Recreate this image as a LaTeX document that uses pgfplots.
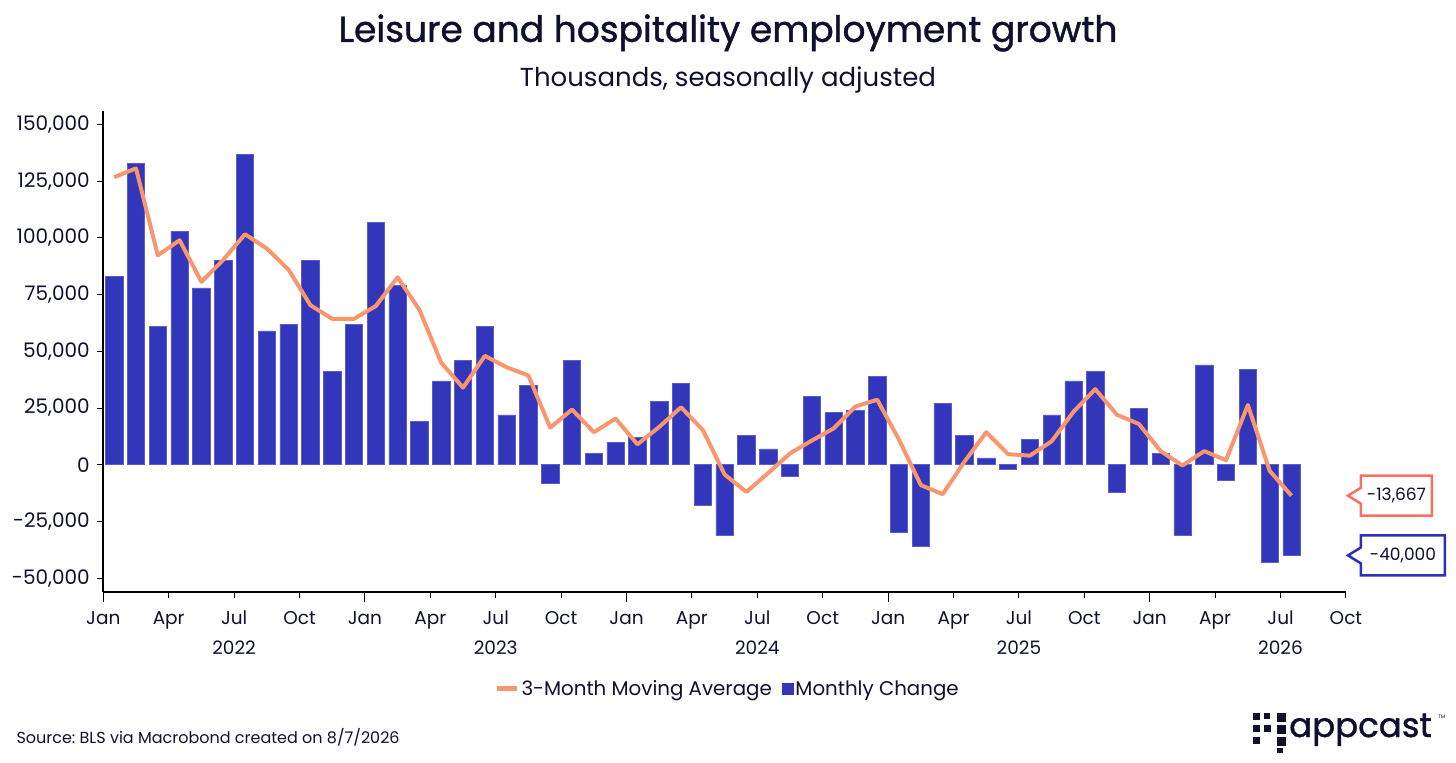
\documentclass[border=0pt]{standalone}
\usepackage{pgfplots}
\pgfplotsset{compat=1.18}
\usepackage{pgfplotstable}
\usepackage{fontspec}
\setmainfont{Poppins}
\newfontfamily\titlefont{Poppins}[FakeBold=1.2]
\frenchspacing
\definecolor{barblue}{RGB}{50,54,186}
\definecolor{lineorange}{RGB}{250,150,110}
\definecolor{callred}{RGB}{248,112,96}
\definecolor{callblue}{RGB}{44,48,184}
\definecolor{navy}{RGB}{14,16,46}

\pgfplotstableread{
x     change   ma
0.5    83000  126800
1.5   133000  130700
2.5    61000   92333
3.5   103000   99000
4.5    78000   80667
5.5    90000   90333
6.5   137000  101667
7.5    59000   95333
8.5    62000   86000
9.5    90000   70333
10.5   41000   64333
11.5   62000   64333
12.5  107000   70000
13.5   79000   82667
14.5   19000   68333
15.5   37000   45000
16.5   46000   34000
17.5   61000   48000
18.5   22000   43000
19.5   35000   39333
20.5   -8000   16333
21.5   46000   24333
22.5    5000   14333
23.5   10000   20333
24.5   12000    9000
25.5   28000   16667
26.5   36000   25333
27.5  -18000   15333
28.5  -31000   -4333
29.5   13000  -12000
30.5    7000   -3667
31.5   -5000    5000
32.5   30000   10667
33.5   23000   16000
34.5   24000   25667
35.5   39000   28667
36.5  -30000   11000
37.5  -36000   -9000
38.5   27000  -13000
39.5   13000    1333
40.5    3000   14333
41.5   -2000    4667
42.5   11000    4000
43.5   22000   10333
44.5   37000   23333
45.5   41000   33333
46.5  -12000   22000
47.5   25000   18000
48.5    5000    6000
49.5  -31000    -333
50.5   44000    6000
51.5   -7000    2000
52.5   42000   26333
53.5  -43000   -2667
54.5  -40000  -13667
}\datatable

\begin{document}
\begin{tikzpicture}
\path[use as bounding box] (0,0) rectangle (1456bp,763bp);

\node[font=\titlefont\fontsize{36bp}{40bp}\selectfont, text=navy] at (728bp,730bp) {Leisure and hospitality employment growth};
\node[font=\fontsize{26bp}{30bp}\selectfont, text=navy] at (728bp,683bp) {Thousands, seasonally adjusted};

\begin{axis}[
  at={(103.3bp,171.3bp)}, anchor=south west,
  scale only axis, width=1242.7bp, height=480.7bp,
  xmin=0, xmax=57, ymin=-56000, ymax=156000,
  axis x line*=bottom, axis y line*=left,
  axis line style={line width=2bp, black},
  clip=false,
  scaled y ticks=false,
  tick align=outside,
  major tick length=6bp,
  tick style={black, line width=1bp},
  ytick={-50000,-25000,0,25000,50000,75000,100000,125000,150000},
  yticklabels={{-50,000},{-25,000},{0},{25,000},{50,000},{75,000},{100,000},{125,000},{150,000}},
  yticklabel style={font=\fontsize{20bp}{24bp}\selectfont, text=navy, xshift=-4bp},
  xtick={0,3,...,57},
  xticklabels={Jan,Apr,{Jul\\2022},Oct,Jan,Apr,{Jul\\2023},Oct,Jan,Apr,{Jul\\2024},Oct,Jan,Apr,{Jul\\2025},Oct,Jan,Apr,{Jul\\2026},Oct},
  xticklabel style={font=\fontsize{18.5bp}{30bp}\selectfont, text=navy, align=center, yshift=-10bp},
  extra x ticks={0,12,24,36,48},
  extra x tick labels={},
  extra x tick style={major tick length=10bp},
  reverse legend,
  legend columns=2,
  legend style={at={(axis description cs:0.5,-0.202)}, anchor=center, xshift=3bp, draw=none, fill=none,
    font=\fontsize{19.8bp}{22bp}\selectfont, text=navy,
    /tikz/every even column/.append style={column sep=8bp}},
]
\addplot[ybar, bar width=17.3bp, bar shift=0pt, fill=barblue, draw=barblue!80!white, line width=0.6bp,
  legend image code/.code={\fill[barblue] (-2bp,-5.5bp) rectangle (9bp,5.5bp);}]
  table[x=x, y=change] {\datatable};
\addlegendentry{Monthly Change}
\addplot[sharp plot, color=lineorange, line width=4bp, no marks, line join=round,
  legend image code/.code={\draw[lineorange, line width=5bp] (0bp,0bp) -- (20bp,0bp);}]
  table[x=x, y=ma] {\datatable};
\addlegendentry{3-Month Moving Average}
\coordinate (t1) at (axis cs:57,-13667);
\coordinate (t2) at (axis cs:57,-40000);
\end{axis}

\draw[callred, line width=2.5bp, fill=white, line join=miter] ([xshift=2bp]t1) -- ++(13bp,8bp) -- ++(0bp,12bp) -- ++(71bp,0bp) -- ++(0bp,-40bp) -- ++(-71bp,0bp) -- ++(0bp,12bp) -- cycle;
\node[font=\fontsize{17bp}{20bp}\selectfont, text=navy] at ([xshift=50.5bp]t1) {-13,667};
\draw[callblue, line width=2.5bp, fill=white, line join=miter] ([xshift=2bp]t2) -- ++(13bp,8bp) -- ++(0bp,12bp) -- ++(84bp,0bp) -- ++(0bp,-40bp) -- ++(-84bp,0bp) -- ++(0bp,12bp) -- cycle;
\node[font=\fontsize{17bp}{20bp}\selectfont, text=navy] at ([xshift=57bp]t2) {-40,000};

\node[anchor=west, font=\fontsize{16bp}{20bp}\selectfont, text=navy] at (13bp,26bp) {Source: BLS via Macrobond created on 8/7/2026};

% appcast logo
\begin{scope}[navy]
\fill (1253bp,43bp) rectangle ++(7bp,7bp);
\fill (1264bp,44bp) rectangle ++(6bp,6bp);
\fill (1277bp,41bp) rectangle ++(9bp,9bp);
\fill (1253bp,31bp) rectangle ++(7bp,7bp);
\fill (1264bp,31bp) rectangle ++(7bp,7bp);
\fill (1277bp,29bp) rectangle ++(9bp,9bp);
\fill (1253bp,19bp) rectangle ++(7bp,7bp);
\fill (1277bp,17bp) rectangle ++(9bp,9bp);
\fill (1277bp,10bp) rectangle ++(6bp,5bp);
\end{scope}
\node[anchor=base west, inner sep=0pt, font=\titlefont\fontsize{34bp}{38bp}\selectfont, text=navy] at (1289bp,26bp) {appcast};
\node[anchor=west, inner sep=0pt, font=\fontsize{5bp}{6bp}\selectfont, text=navy] at (1438bp,46bp) {TM};
\end{tikzpicture}
\end{document}
